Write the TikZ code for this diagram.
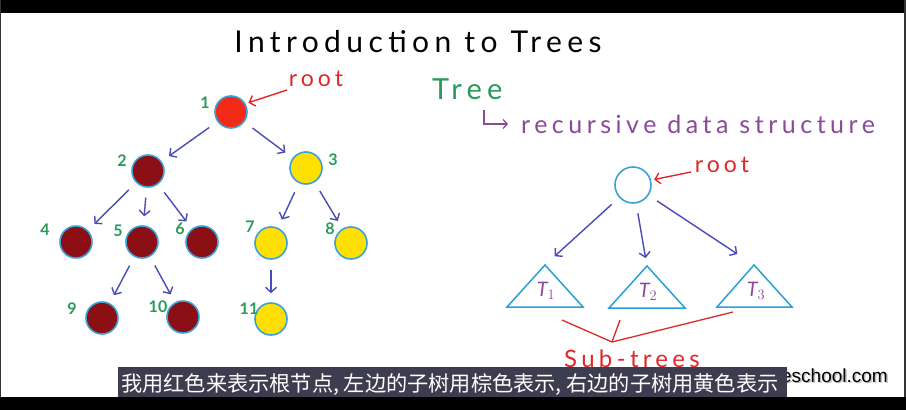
\documentclass[tikz,border=0pt]{standalone}
\usepackage{fontspec}
\usetikzlibrary{arrows.meta}
\newfontfamily\hand[LetterSpace=18]{Lato}
\newfontfamily\handn{Lato}
\newfontfamily\cjk{Noto Sans CJK SC}
\newfontfamily\wm{Liberation Sans}
\definecolor{rootred}{HTML}{F22A18}
\definecolor{brownred}{HTML}{8B0F14}
\definecolor{yel}{HTML}{FFE000}
\definecolor{ring}{HTML}{3AA2D6}
\definecolor{arr}{HTML}{4B4BB5}
\definecolor{numg}{HTML}{2A9A5A}
\definecolor{penred}{HTML}{E02828}
\definecolor{purp}{HTML}{8A4A9A}
\definecolor{tri}{HTML}{2B9FD8}
\definecolor{subbar}{HTML}{3D3D4F}
\tikzset{
  tnode/.style={circle, draw=ring, line width=1.6pt, minimum size=32pt, inner sep=0pt},
  rootn/.style={tnode, fill=rootred},
  brn/.style={tnode, fill=brownred},
  yln/.style={tnode, fill=yel},
  num/.style={text=numg, font=\handn\fontsize{16}{16}\selectfont\bfseries, inner sep=0pt},
  edge/.style={draw=arr, line width=1.4pt, -{Straight Barb[length=5pt,width=11pt]}, shorten <=10pt, shorten >=9pt},
  redarrow/.style={draw=penred, line width=1.4pt, -{Straight Barb[length=5pt,width=11pt]}, shorten >=3pt},
  redtext/.style={text=penred, font=\hand\fontsize{23}{23}\selectfont, inner sep=0pt},
  triline/.style={draw=tri, line width=1.5pt, line join=miter},
  tlabel/.style={text=purp, font=\handn\fontsize{20}{20}\selectfont\itshape, inner sep=0pt}
}
\begin{document}
\begin{tikzpicture}[x=1pt,y=-1pt]
\useasboundingbox (0,0) rectangle (906,410);
\fill[white] (0,0) rectangle (906,410);
\fill[black] (0,0) rectangle (906,13);
\fill[black!80] (0,0) rectangle (1.2,410);
\fill[black!80] (904,0) rectangle (906,410);

% title
\node[font=\hand\fontsize{30}{30}\selectfont, inner sep=0pt] (title) at (418,42) {Introduction to Trees};

% left tree
\node[rootn] (n1) at (231,112) {};
\node[brn] (n2) at (148,171) {};
\node[yln] (n3) at (306,168) {};
\node[brn] (n4) at (76,242) {};
\node[brn] (n5) at (142,242) {};
\node[brn] (n6) at (202,242) {};
\node[yln] (n7) at (271,243) {};
\node[yln] (n8) at (351,243) {};
\node[brn] (n9) at (102,318) {};
\node[brn] (n10) at (183,317) {};
\node[yln] (n11) at (271,319) {};

\node[num] (l1) at (205,103) {1};
\node[num] (l2) at (122,161) {2};
\node[num] (l3) at (333,160) {3};
\node[num] (l4) at (45,230) {4};
\node[num] (l5) at (118,231) {5};
\node[num] (l6) at (180,229) {6};
\node[num] (l7) at (250,227) {7};
\node[num] (l8) at (330,229) {8};
\node[num] (l9) at (72,309) {9};
\node[num] (l10) at (158,307) {10};
\node[num] (l11) at (249,309) {11};

\draw[edge] (n1) -- (n2);
\draw[edge] (n1) -- (n3);
\draw[edge] (n2) -- (n4);
\draw[edge] (n2) -- (n5);
\draw[edge] (n2) -- (n6);
\draw[edge] (n3) -- (n7);
\draw[edge] (n3) -- (n8);
\draw[edge] (n5) -- (n9);
\draw[edge] (n5) -- (n10);
\draw[edge] (n7) -- (n11);

\node[redtext] (root1) at (316,79) {root};
\coordinate (r1s) at (287,90);
\draw[redarrow] (r1s) -- (n1.30);

% right side
\node[text=numg, font=\hand\fontsize{29}{29}\selectfont, inner sep=0pt, anchor=west] (treeword) at (432,89) {Tree};
\coordinate (hk1) at (484,110);
\coordinate (hk2) at (484,124);
\coordinate (hk3) at (508,124);
\draw[draw=purp, line width=1.3pt, -{Straight Barb[length=4pt,width=9pt]}] (hk1) -- (hk2) -- (hk3);
\node[text=purp, font=\hand\fontsize{25}{25}\selectfont, inner sep=0pt, anchor=west] (rds) at (521,124) {recursive data structure};

\node[circle, draw=ring, line width=1.6pt, minimum size=36pt, inner sep=0pt] (rt) at (633,185) {};
\node[redtext] (root2) at (722,165) {root};
\coordinate (r2s) at (691,172);
\draw[redarrow] (r2s) -- (rt.15);

\coordinate (a1) at (545,265);
\coordinate (a2) at (647,266);
\coordinate (a3) at (754,265);
\draw[triline] (a1) -- (583,307) -- (507,307) -- cycle;
\draw[triline] (a2) -- (685,308) -- (609,308) -- cycle;
\draw[triline] (a3) -- (792,307) -- (717,307) -- cycle;
\node[tlabel] (t1) at (546,291) {T$_1$};
\node[tlabel] (t2) at (648,292) {T$_2$};
\node[tlabel] (t3) at (756,291) {T$_3$};

\draw[edge, shorten >=13pt] (rt) -- (a1);
\draw[edge, shorten >=8pt] (rt) -- (a2);
\draw[edge, shorten >=20pt] (rt) -- (a3);

\coordinate (b1) at (562,320);
\coordinate (b2) at (612,342);
\coordinate (b3) at (733,312);
\coordinate (b4) at (620,320);
\draw[draw=penred, line width=1.3pt] (b1) -- (b2) -- (b3);
\draw[draw=penred, line width=1.3pt] (b4) -- (b2);
\node[text=penred, font=\hand\fontsize{24}{24}\selectfont, inner sep=0pt] (subt) at (632,359) {Sub-trees};

% watermark and subtitle
\node[text=black!25, font=\wm\fontsize{19}{19}\selectfont, inner sep=0pt, anchor=base east] (wmsh) at (889.5,383.5) {eschool.com};
\node[text=black, font=\wm\fontsize{19}{19}\selectfont, inner sep=0pt, anchor=base east] (wmk) at (888,382) {eschool.com};
\fill[subbar] (118,367) rectangle (787,397);
\node[text=white, font=\cjk\fontsize{21.2}{21.2}\selectfont, inner sep=0pt, anchor=west] (sub) at (121,385) {我用红色来表示根节点, 左边的子树用棕色表示, 右边的子树用黄色表示};
\fill[black] (0,397) rectangle (906,410);
\end{tikzpicture}
\end{document}
